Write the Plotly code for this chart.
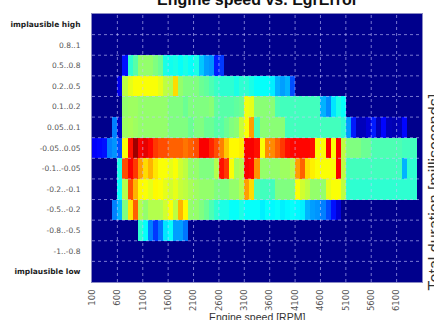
import plotly.graph_objects as go

# ---------------- data ----------------
title_text = "Engine speed vs. EgrError"
x_title = "Engine speed [RPM]"
cbar_title = "Total duration [milliseconds]"

# RPM bin edges (65 bins of 100 RPM)
rpm_edges = [100, 200, 300, 400, 500, 600, 700, 800, 900, 1000, 1100, 1200, 1300,
             1400, 1500, 1600, 1700, 1800, 1900, 2000, 2100, 2200, 2300, 2400, 2500,
             2600, 2700, 2800, 2900, 3000, 3100, 3200, 3300, 3400, 3500, 3600, 3700,
             3800, 3900, 4000, 4100, 4200, 4300, 4400, 4500, 4600, 4700, 4800, 4900,
             5000, 5100, 5200, 5300, 5400, 5500, 5600, 5700, 5800, 5900, 6000, 6100,
             6200, 6300, 6400, 6500, 6600]
x_ticks = [100, 600, 1100, 1600, 2100, 2600, 3100, 3600, 4100, 4600, 5100, 5600, 6100]

# error categories, top to bottom
err_categories = ["implausible high", "0.8..1", "0.5..0.8", "0.2..0.5", "0.1..0.2",
                  "0.05..0.1", "-0.05..0.05", "-0.1..-0.05", "-0.2..-0.1",
                  "-0.5..-0.2", "-0.8..-0.5", "-1..-0.8", "implausible low"]

# durations (relative colour units) per category row, one value per RPM bin
row_impl_high = [0,0,0,0,0,0,0,0,0,0,0,0,0,0,0,0,0,0,0,0,0,0,0,0,0,0,0,0,0,0,0,0,0,
                 0,0,0,0,0,0,0,0,0,0,0,0,0,0,0,0,0,0,0,0,0,0,0,0,0,0,0,0,0,0,0,0]
row_08_1 = [0,0,0,0,0,0,0,0,0,0,0,0,0,0,0,0,0,0,0,0,0,0,0,0,0,0,0,0,0,0,0,0,0,
            0,0,0,0,0,0,0,0,0,0,0,0,0,0,0,0,0,0,0,0,0,0,0,0,0,0,0,0,0,0,0,0]
row_05_08 = [0,0,0,0,0,0,14,42,46,52,52,52,50,48,40,39,40,38,40,38,40,32,28,27,15,18,
             0,0,0,0,0,0,0,0,0,0,0,0,0,0,0,0,0,0,0,0,0,0,0,0,0,0,0,0,0,0,0,0,0,0,0,0,0,0,0]
row_02_05 = [0,0,0,0,0,10,56,60,62,62,62,62,62,60,56,55,66,52,50,50,50,48,47,45,43,42,
             42,42,40,42,42,40,38,38,38,36,30,28,30,20,
             0,0,0,0,0,0,0,0,0,0,0,0,0,0,0,0,0,0,0,0,0,0,0,0,0]
row_01_02 = [0,0,0,0,0,0,52,53,53,52,52,52,52,52,52,50,50,50,48,50,50,50,50,51,47,46,
             46,46,47,48,61,60,51,51,51,51,45,44,44,44,44,44,44,44,44,30,26,35,40,38,
             0,0,0,0,0,0,0,0,0,0,0,0,0,0,0]
row_005_01 = [0,0,0,0,25,6,53,54,53,52,52,52,52,52,52,50,50,50,50,48,50,50,48,48,46,46,
              48,50,51,57,62,72,45,51,51,51,51,51,44,44,44,44,44,44,44,44,44,44,44,42,
              28,15,5,5,8,15,5,13,5,4,5,13,0,0,0]
row_m005_005 = [12,13,14,25,27,20,62,86,97,88,90,87,82,80,80,78,78,78,76,78,80,88,88,84,80,75,
                68,63,63,64,88,88,86,62,74,74,78,82,86,87,87,87,87,86,62,62,88,62,88,56,
                50,50,50,48,48,45,45,45,45,45,45,44,44,44,0]
row_m01_m005 = [0,0,0,0,0,40,80,88,82,72,66,70,65,62,62,60,62,58,56,52,52,50,50,50,55,86,
                82,62,54,55,88,87,73,52,52,52,52,53,53,55,72,78,66,64,62,62,62,62,88,56,
                44,44,44,44,44,44,44,44,44,44,44,30,42,42,0]
row_m02_m01 = [0,0,0,0,0,38,55,80,70,63,62,60,63,62,60,58,60,57,56,54,53,52,52,52,50,50,
               50,52,52,55,72,66,45,44,44,44,50,50,50,50,62,58,56,52,52,52,60,62,62,56,
               42,42,42,42,42,42,42,42,42,42,42,42,42,42,0]
row_m05_m02 = [0,0,0,0,25,30,50,65,78,55,52,55,55,55,58,62,56,70,63,52,52,50,48,45,42,40,
               40,38,38,40,38,38,38,36,38,37,38,36,37,38,37,36,30,28,27,25,20,14,8,
               0,0,0,0,0,0,0,0,0,0,0,0,0,0,0,0]
row_m08_m05 = [0,0,0,0,0,0,0,0,0,42,38,25,18,24,35,38,28,28,24,
               0,0,0,0,0,0,0,0,0,0,0,0,0,0,0,0,0,0,0,0,0,0,0,0,0,0,0,0,0,0,0,0,0,0,0,0,0,0,0,0,0,0,0,0,0,0]
row_m1_m08 = [0,0,0,0,0,0,0,0,0,0,0,0,0,0,0,0,0,0,0,0,0,0,0,0,0,0,0,0,0,0,0,0,0,
              0,0,0,0,0,0,0,0,0,0,0,0,0,0,0,0,0,0,0,0,0,0,0,0,0,0,0,0,0,0,0,0]
row_impl_low = [0,0,0,0,0,0,0,0,0,0,0,0,0,0,0,0,0,0,0,0,0,0,0,0,0,0,0,0,0,0,0,0,0,
                0,0,0,0,0,0,0,0,0,0,0,0,0,0,0,0,0,0,0,0,0,0,0,0,0,0,0,0,0,0,0,0]

z_rows = [row_impl_high, row_08_1, row_05_08, row_02_05, row_01_02, row_005_01,
          row_m005_005, row_m01_m005, row_m02_m01, row_m05_m02, row_m08_m05,
          row_m1_m08, row_impl_low]

# ---------------- figure ----------------
jet = [[0.0, "rgb(0,0,140)"], [0.125, "rgb(0,0,255)"], [0.375, "rgb(0,255,255)"],
       [0.625, "rgb(255,255,0)"], [0.875, "rgb(255,0,0)"], [1.0, "rgb(128,0,0)"]]

fig = go.Figure(go.Heatmap(
    z=z_rows, x=rpm_edges, y=list(range(len(err_categories))),
    colorscale=jet, zmin=0, zmax=100, showscale=False, zsmooth=False,
    hoverongaps=False,
))

ticktext = []
for c in err_categories:
    if c.startswith("implausible"):
        ticktext.append("<b><span style='color:#222'>" + c + "</span></b>")
    else:
        ticktext.append(c)

grid = dict(color="rgba(200,200,255,0.6)", width=1, dash="dot")
shapes = []
for xv in x_ticks[1:]:
    shapes.append(dict(type="line", xref="x", yref="paper", x0=xv, x1=xv, y0=0, y1=1,
                       line=grid, layer="above"))
for i in range(1, len(err_categories)):
    shapes.append(dict(type="line", xref="paper", yref="y", x0=0, x1=1, y0=i - 0.5, y1=i - 0.5,
                       line=grid, layer="above"))

fig.update_layout(
    width=434, height=320,
    margin=dict(l=92, r=12, t=14, b=38),
    paper_bgcolor="white", plot_bgcolor="rgb(0,0,140)",
    shapes=shapes,
    xaxis=dict(range=[rpm_edges[0], rpm_edges[-1]], tickvals=x_ticks,
               ticktext=[str(v) for v in x_ticks], tickangle=-90,
               tickfont=dict(family="DejaVu Sans", size=8.5, color="#555"),
               showgrid=False, zeroline=False, ticks="", ticklabelstandoff=3,
               showline=True, linecolor="#8a8ac4", mirror=True, automargin=False),
    yaxis=dict(tickvals=list(range(len(err_categories))), ticktext=ticktext,
               autorange="reversed", automargin=False,
               tickfont=dict(family="DejaVu Sans", size=7.5, color="#555"),
               showgrid=False, zeroline=False, ticks="", ticklabelstandoff=9,
               showline=True, linecolor="#8a8ac4", mirror=True),
    annotations=[
        dict(text="<b>" + title_text + "</b>", xref="paper", yref="paper", x=0.5, y=1,
             xanchor="center", yanchor="middle", yshift=15, showarrow=False,
             font=dict(family="Liberation Sans", size=16, color="#111")),
        dict(text=x_title, xref="paper", yref="paper", x=0.5, y=0,
             xanchor="center", yanchor="middle", yshift=-35, showarrow=False,
             font=dict(family="Liberation Sans", size=10.5, color="#333")),
        dict(text=cbar_title, xref="paper", yref="paper", x=1, y=0.336,
             xanchor="left", yanchor="middle", xshift=2, textangle=-90, showarrow=False,
             font=dict(family="Liberation Sans", size=16, color="#333")),
    ],
)

fig.write_html("out.html")
